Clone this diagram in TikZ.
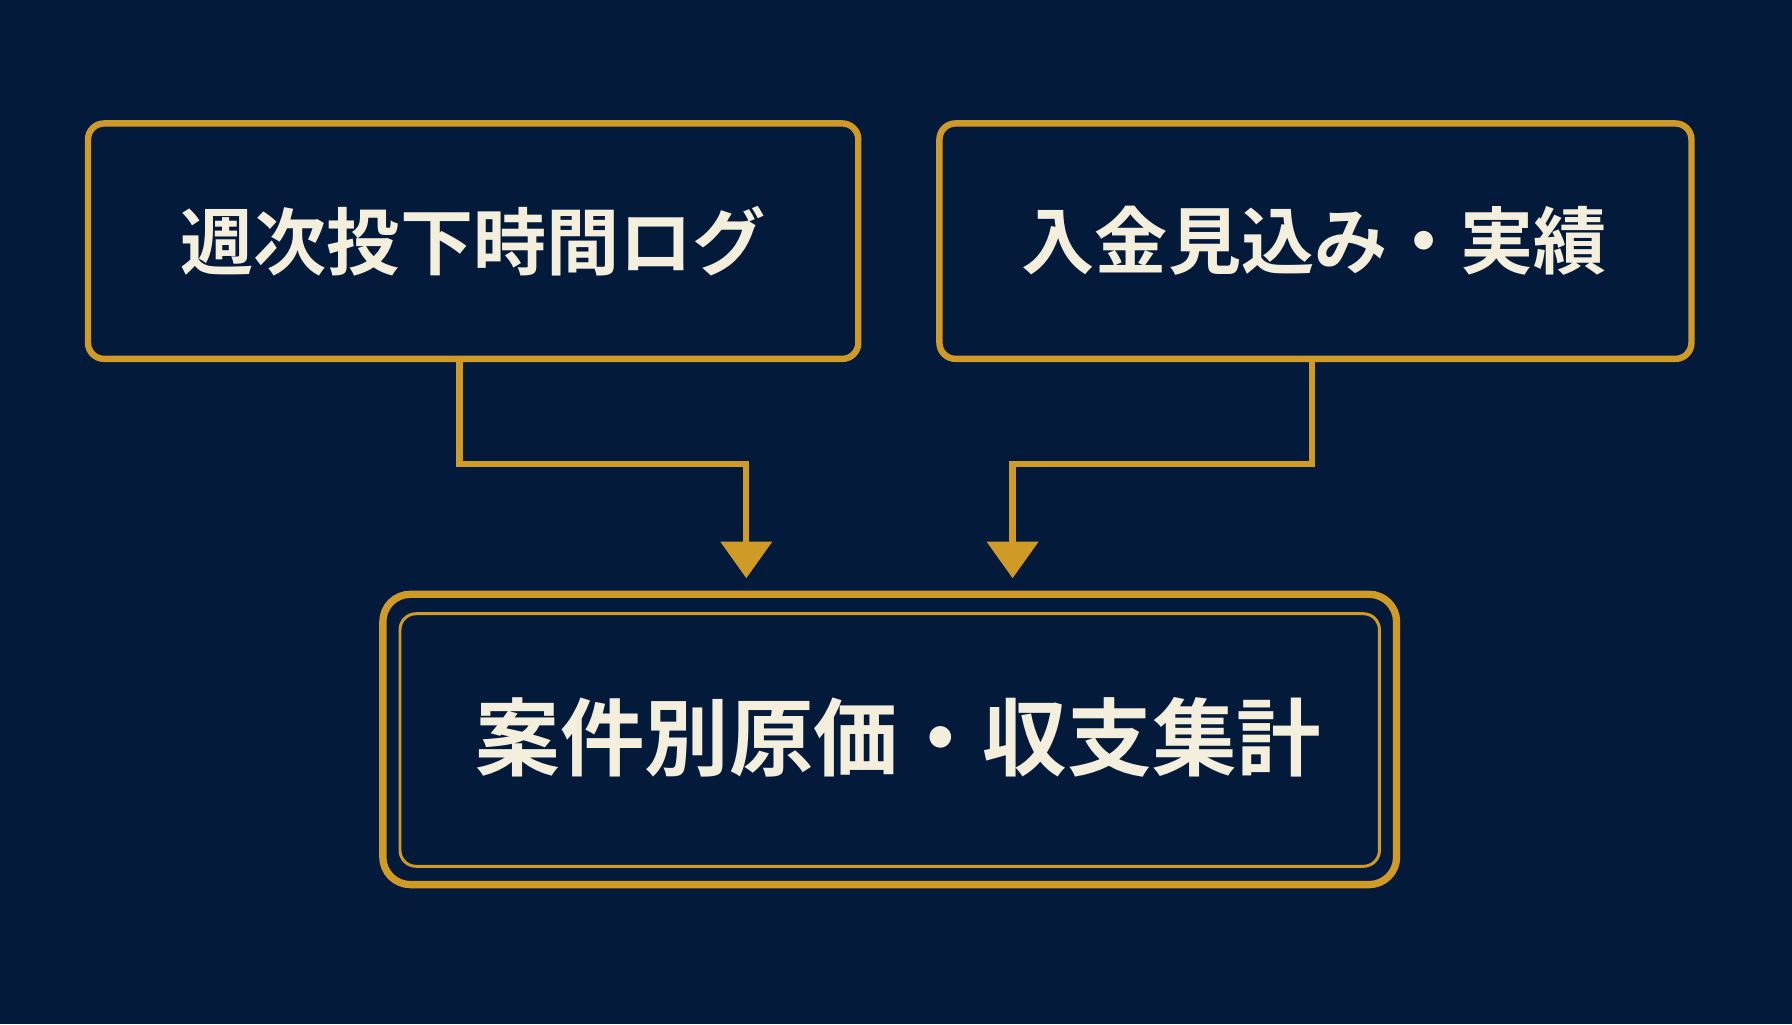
\documentclass[tikz,border=0pt]{standalone}
\usepackage{fontspec}
\newfontfamily\cjk{Noto Sans CJK JP Bold}
\usetikzlibrary{arrows.meta}
\definecolor{bg}{HTML}{031A3A}
\definecolor{gold}{HTML}{D09A26}
\definecolor{cream}{HTML}{F4EEDD}
\begin{document}
\begin{tikzpicture}[x=0.5pt,y=-0.5pt,
  box/.style={draw=gold,line width=2.8pt,rounded corners=7pt},
  lbl/.style={text=cream,font=\cjk\fontsize{32}{36}\selectfont},
  conn/.style={draw=gold,line width=2.8pt,-{Triangle[width=22pt,length=16pt]}}]
\fill[bg] (0,0) rectangle (1568,896);
\useasboundingbox (0,0) rectangle (1568,896);
\draw[box] (77,108) rectangle (751,314);
\draw[box] (822,108) rectangle (1480,314);
\draw[draw=gold,line width=3.2pt,rounded corners=12pt] (335,520) rectangle (1222,774);
\draw[draw=gold,line width=1.3pt,rounded corners=7pt] (350,537) rectangle (1207,758);
\node[lbl] (a) at (414,211) {週次投下時間ログ};
\node[lbl] (b) at (1150,211) {入金見込み・実績};
\node[text=cream,font=\cjk\fontsize{37}{42}\selectfont] (c) at (786,645) {案件別原価・収支集計};
\coordinate (a1) at (402,314);
\coordinate (b1) at (1148,314);
\coordinate (t1) at (653,506);
\coordinate (t2) at (886,506);
\draw[conn] (a1) |- (653,406) -- (t1);
\draw[conn] (b1) |- (886,406) -- (t2);
\end{tikzpicture}
\end{document}
